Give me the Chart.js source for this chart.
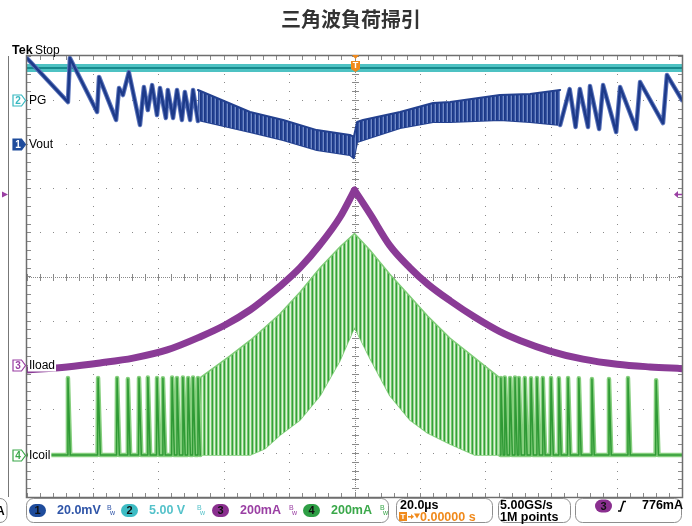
<!DOCTYPE html>
<html>
<head>
<meta charset="utf-8">
<script src="https://cdn.jsdelivr.net/npm/chart.js@4.4.0/dist/chart.umd.min.js"></script>
<style>
  html, body { margin: 0; padding: 0; background: #fff; }
</style>
</head>
<body>
<canvas id="c" width="692" height="526"></canvas>
<script>
// ---- scope settings (20us/div, 10 x 10 div) ----
const title = '三角波負荷掃引';
const xMin = -100, xMax = 100;          // us
const ch1Pos = 3.0, ch1Scale = 20;      // Vout, mV/div
const ch2Pos = 4.0, ch2Scale = 5;       // PG, V/div
const ch3Pos = -2.0, ch3Scale = 200;    // Iload, mA/div
const ch4Pos = -4.05, ch4Scale = 200;   // Icoil, mA/div
const trigLevel = 776;                  // mA on ch3

// Vout (mV) - sawtooth vertices, left side
const voutLeftT = [-100, -87.5, -86.9, -78.6, -78.0, -72.8, -71.9, -70.7, -68.9, -65.5, -64.3, -63.1, -61.8, -60.3, -59.4, -57.6, -57.0, -55.4, -54.2, -52.7, -51.8, -50.2, -49.3, -47.8];
const voutLeftV = [39, 19.1, 39.1, 14.6, 30.5, 11.0, 25.5, 22.3, 32.7, 8.7, 25.9, 15.5, 26.8, 13.2, 25.5, 11.9, 24.6, 11.9, 24.6, 11.0, 23.7, 11.0, 24.6, 10.5];
// Vout right side sawtooth
const voutRightT = [62.8, 65.7, 67.5, 68.8, 71.3, 71.9, 74.7, 75.9, 79.9, 81.1, 86.0, 87.2, 94.2, 95.4, 100];
const voutRightV = [8.7, 25.0, 7.8, 25.0, 7.8, 26.4, 6.9, 26.8, 5.5, 25.9, 6.9, 28.2, 9.6, 31.4, 20.0];
// Vout dense ripple envelope in the middle
const voutBandT  = [-47.8, -31.9, -21.8, -11.5, -1.4, -0.2, 0.8, 2.6, 13.9, 24.0, 29.2, 44.4, 53.6, 62.8];
const voutBandHi = [24.6, 14.6, 11.0, 6.4, 4.2, 3.3, 10.1, 11.0, 14.6, 18.7, 19.1, 22.3, 22.8, 24.6];
const voutBandLo = [11.0, 5.5, 1.9, -2.6, -4.9, -6.3, 1.0, 1.9, 7.3, 10.1, 10.1, 11.0, 10.1, 8.7];

// PG (V)
const pgT = [-100, 100];
const pgV = [3.64, 3.64];

// Iload (mA), rising half and falling half
const iloadUpT = [-100, -87.8, -77.7, -67.6, -57.2, -47.2, -39.5, -31.9, -27.3, -22.8, -16.6, -10.5, -4.4, 0];
const iloadUpV = [-24, -10, 8, 30, 67, 126, 180, 248, 300, 355, 440, 545, 670, 792];
const iloadDnT = [0, 4.7, 10.8, 16.9, 22.4, 29.2, 36.8, 44.4, 50.5, 59.7, 69.8, 80.2, 90.2, 100];
const iloadDnV = [792, 685, 540, 440, 365, 290, 215, 150, 110, 62, 25, 2, -10, -18];

// Icoil (mA) - discontinuous pulses at light load
const icoilLeftT  = [-87.5, -78.3, -72.5, -69.2, -65.8, -63.1, -60.3, -58.5, -55.7, -54.2, -52.4, -50.8, -49.3, -47.8];
const icoilLeftPk = [350, 350, 350, 345, 350, 352, 350, 348, 352, 350, 352, 350, 352, 350];
const icoilRightT  = [44.7, 45.9, 47.5, 49.0, 50.2, 52.0, 53.9, 55.7, 57.5, 60.0, 62.4, 65.2, 68.5, 72.5, 77.7, 83.5, 92.1];
const icoilRightPk = [350, 352, 350, 352, 350, 350, 348, 350, 350, 350, 348, 350, 348, 345, 345, 350, 340];
// Icoil continuous ripple envelope (peaks / valleys)
const icoilBandT  = [-47.2, -38.0, -31.9, -27.3, -22.8, -16.6, -10.5, -4.4, 0, 4.7, 10.8, 16.9, 22.4, 29.2, 36.8, 44.4];
const icoilBandHi = [350, 450, 520, 580, 640, 740, 850, 945, 1005, 930, 820, 720, 630, 530, 440, 350];
const icoilBandLo = [0, 0, 0, 30, 90, 160, 270, 430, 580, 440, 270, 160, 100, 50, 0, 0];

// ---- helpers ----
const canvas = document.getElementById('c');
const ctx0 = canvas.getContext('2d');

function pts(ts, vs, pos, scale) {
  return ts.map((t, i) => ({ x: t, y: vs[i] === null ? null : pos + vs[i] / scale }));
}

function pulses(ts, pks) {
  const out = [];
  ts.forEach((t, i) => {
    out.push({ x: t - 0.15, y: 0 }, { x: t, y: pks[i] }, { x: t + 0.7, y: 0 });
  });
  return out;
}

function stripes(cols) {
  const c = document.createElement('canvas');
  c.width = cols.length; c.height = 1;
  const g = c.getContext('2d');
  cols.forEach((col, i) => { g.fillStyle = col; g.fillRect(i, 0, 1, 1); });
  return ctx0.createPattern(c, 'repeat');
}

const voutSaw = [
  ...pts(voutLeftT, voutLeftV, ch1Pos, ch1Scale),
  { x: 0, y: null },
  ...pts(voutRightT, voutRightV, ch1Pos, ch1Scale)
];

const icoilRaw = [{ x: xMin, y: 0 }, ...pulses(icoilLeftT, icoilLeftPk), { x: -47.2, y: 0 }, { x: 0, y: null },
  ...pulses(icoilRightT, icoilRightPk), { x: xMax, y: 0 }];
const icoilLine = icoilRaw.map(p => ({ x: p.x, y: p.y === null ? null : ch4Pos + p.y / ch4Scale }));

const line = (data, color, width, extra) => Object.assign({
  data, borderColor: color, borderWidth: width, pointRadius: 0, fill: false, spanGaps: false,
  borderJoinStyle: 'round', borderCapStyle: 'round'
}, extra || {});

const datasets = [
  line(voutSaw, '#1d3a8a', 2.5),
  line(voutSaw, '#5b74bb', 4.5),
  line(pts(voutBandT, voutBandHi, ch1Pos, ch1Scale), '#23408f', 2,
    { fill: '+1', backgroundColor: stripes(['#1b3786', '#22408f', '#3a58a6', '#7089c6']) }),
  line(pts(voutBandT, voutBandLo, ch1Pos, ch1Scale), '#23408f', 2),
  line(pts(pgT, pgV, ch2Pos, ch2Scale), '#178a8d', 2),
  line(pts(pgT, pgV, ch2Pos, ch2Scale), '#4ec2c3', 8, { borderCapStyle: 'butt' }),
  line(pts(iloadUpT, iloadUpV, ch3Pos, ch3Scale), '#8a3b96', 7, { cubicInterpolationMode: 'monotone' }),
  line(pts(iloadDnT, iloadDnV, ch3Pos, ch3Scale), '#8a3b96', 7, { cubicInterpolationMode: 'monotone' }),
  line(icoilLine, '#2f9a35', 1.5),
  line(icoilLine, '#86cf7e', 4.5),
  line(pts(icoilBandT, icoilBandHi, ch4Pos, ch4Scale), '#7fcc77', 1.5,
    { fill: '+1', backgroundColor: stripes(['#35a03b', '#9bd993', '#e0f3dc', '#76c96e']) }),
  line(pts(icoilBandT, icoilBandLo, ch4Pos, ch4Scale), '#7fcc77', 1.5)
];

// ---- graticule ----
const graticule = {
  id: 'graticule',
  beforeDatasetsDraw(chart) {
    const { ctx, chartArea: a, scales: { x, y } } = chart;
    ctx.save();
    ctx.fillStyle = '#8a8a8a';
    // dotted major lines
    for (let t = -80; t <= 80; t += 20) {
      if (t === 0) continue;
      const px = Math.round(x.getPixelForValue(t));
      for (let d = -5; d <= 5.001; d += 0.2) ctx.fillRect(px, Math.round(y.getPixelForValue(d)), 1, 1);
    }
    for (let d = -4; d <= 4; d++) {
      if (d === 0) continue;
      const py = Math.round(y.getPixelForValue(d));
      for (let t = -100; t <= 100.001; t += 4) ctx.fillRect(Math.round(x.getPixelForValue(t)), py, 1, 1);
    }
    // center cross
    const cx = Math.round(x.getPixelForValue(0)), cy = Math.round(y.getPixelForValue(0));
    for (let p = a.top; p < a.bottom; p += 2) ctx.fillRect(cx, p, 1, 1);
    for (let p = a.left; p < a.right; p += 2) ctx.fillRect(p, cy, 1, 1);
    for (let d = -5; d <= 5.001; d += 0.2) {
      const py = Math.round(y.getPixelForValue(d));
      ctx.fillRect(cx - 3, py, 7, 1);
      ctx.fillRect(a.left, py, 4, 1);
      ctx.fillRect(a.right - 4, py, 4, 1);
    }
    for (let t = -100; t <= 100.001; t += 4) {
      const px = Math.round(x.getPixelForValue(t));
      ctx.fillRect(px, cy - 3, 1, 7);
      ctx.fillRect(px, a.top, 1, 4);
      ctx.fillRect(px, a.bottom - 4, 1, 4);
    }
    ctx.restore();
  },
  afterDatasetsDraw(chart) {
    const { ctx, chartArea: a } = chart;
    ctx.save();
    ctx.strokeStyle = '#6e6e6e';
    ctx.lineWidth = 1.5;
    ctx.strokeRect(a.left - 0.5, a.top - 0.5, a.right - a.left + 1, a.bottom - a.top + 1);
    ctx.restore();
  }
};

// ---- labels, markers, status bar ----
const uiFont = '"Liberation Sans"';

function tag(ctx, px, py, num, col, filled) {
  ctx.beginPath();
  ctx.moveTo(px, py - 5.5);
  ctx.lineTo(px + 8.5, py - 5.5);
  ctx.lineTo(px + 12.5, py);
  ctx.lineTo(px + 8.5, py + 5.5);
  ctx.lineTo(px, py + 5.5);
  ctx.closePath();
  ctx.fillStyle = filled ? col : '#fff';
  ctx.fill();
  ctx.strokeStyle = col;
  ctx.lineWidth = 1.2;
  ctx.stroke();
  ctx.fillStyle = filled ? '#fff' : col;
  ctx.font = 'bold 10px ' + uiFont;
  ctx.textAlign = 'center';
  ctx.textBaseline = 'middle';
  ctx.fillText(num, px + 5, py + 0.5);
}

function pill(ctx, px, py, num, col) {
  ctx.beginPath();
  ctx.roundRect(px, py - 6.5, 17, 13, 6.5);
  ctx.fillStyle = col;
  ctx.fill();
  ctx.fillStyle = '#111';
  ctx.font = 'bold 11px ' + uiFont;
  ctx.textAlign = 'center';
  ctx.textBaseline = 'middle';
  ctx.fillText(num, px + 8.5, py + 0.5);
}

function bw(ctx, px, col) {
  ctx.fillStyle = col;
  ctx.font = '7px ' + uiFont;
  ctx.textAlign = 'left';
  ctx.textBaseline = 'alphabetic';
  ctx.fillText('B', px, 510);
  ctx.fillText('w', px + 3, 515);
}

const overlay = {
  id: 'overlay',
  afterDraw(chart) {
    const { ctx, chartArea: a, scales: { x, y } } = chart;
    ctx.save();

    ctx.fillStyle = '#333';
    ctx.font = 'bold 20px "Noto Sans CJK JP"';
    ctx.textAlign = 'center';
    ctx.textBaseline = 'middle';
    ctx.fillText(title, 351, 19);

    // left strip of previous screen
    ctx.strokeStyle = '#777';
    ctx.lineWidth = 1;
    ctx.beginPath(); ctx.moveTo(8.5, a.top); ctx.lineTo(8.5, a.bottom); ctx.stroke();

    ctx.textAlign = 'left';
    ctx.textBaseline = 'alphabetic';
    ctx.fillStyle = '#000';
    ctx.font = 'bold 12.5px ' + uiFont;
    ctx.fillText('Tek', 12, 54);
    ctx.font = '12px ' + uiFont;
    ctx.fillText('Stop', 35, 54);

    const chans = [
      [ch2Pos, '2', '#37b8c0', false, 'PG'],
      [ch1Pos, '1', '#1f4c9c', true, 'Vout'],
      [ch3Pos, '3', '#9a3fa3', false, 'Iload'],
      [ch4Pos, '4', '#3aa84a', false, 'Icoil']
    ];
    chans.forEach(([pos, n, col, filled, lab]) => {
      const py = Math.round(y.getPixelForValue(pos)) + 0.5;
      tag(ctx, 13, py, n, col, filled);
      ctx.font = '12px ' + uiFont;
      const w = ctx.measureText(lab).width;
      ctx.fillStyle = '#fff';
      ctx.fillRect(28, py - 7, w + 2, 13);
      ctx.fillStyle = '#000';
      ctx.textAlign = 'left';
      ctx.textBaseline = 'middle';
      ctx.fillText(lab, 29, py + 0.5);
    });

    // trigger position marker
    const tx = Math.round(x.getPixelForValue(0)) + 0.5;
    ctx.fillStyle = '#f08a1c';
    ctx.beginPath(); ctx.moveTo(tx - 3.5, a.top - 1); ctx.lineTo(tx + 3.5, a.top - 1); ctx.lineTo(tx, a.top + 3); ctx.fill();
    ctx.beginPath();
    ctx.moveTo(tx - 4.5, a.top + 5); ctx.lineTo(tx + 4.5, a.top + 5); ctx.lineTo(tx + 4.5, a.top + 13);
    ctx.lineTo(tx, a.top + 16); ctx.lineTo(tx - 4.5, a.top + 13); ctx.closePath(); ctx.fill();
    ctx.fillStyle = '#fff';
    ctx.font = 'bold 9px ' + uiFont;
    ctx.textAlign = 'center';
    ctx.textBaseline = 'middle';
    ctx.fillText('T', tx, a.top + 10);

    // trigger level arrow (ch3)
    const ty = Math.round(y.getPixelForValue(ch3Pos + trigLevel / ch3Scale)) + 0.5;
    ctx.fillStyle = '#9a3fa3';
    ctx.strokeStyle = '#9a3fa3';
    ctx.beginPath(); ctx.moveTo(a.right - 8, ty); ctx.lineTo(a.right - 4, ty - 3.5); ctx.lineTo(a.right - 4, ty + 3.5); ctx.fill();
    ctx.lineWidth = 1.5;
    ctx.beginPath(); ctx.moveTo(a.right - 4, ty); ctx.lineTo(a.right, ty); ctx.stroke();
    ctx.beginPath(); ctx.moveTo(8, ty); ctx.lineTo(2, ty - 3); ctx.lineTo(2, ty + 3); ctx.fill();

    // status bar
    ctx.strokeStyle = '#8e8e8e';
    ctx.lineWidth = 1;
    [[-40, 47], [26.5, 362], [396.5, 96], [498.5, 72], [575.5, 106]].forEach(([bx, bwid]) => {
      ctx.beginPath(); ctx.roundRect(bx, 498.5, bwid, 24, 7); ctx.stroke();
    });
    ctx.fillStyle = '#000';
    ctx.font = 'bold 12px ' + uiFont;
    ctx.textAlign = 'left';
    ctx.textBaseline = 'alphabetic';
    ctx.fillText('A', -4, 515);

    const chInfo = [
      [29, '1', '#1f4c9c', '20.0mV', '#2f55a8', 107],
      [121, '2', '#3dbcc4', '5.00 V', '#55c2ca', 197],
      [212, '3', '#8a2f8f', '200mA', '#9a3fa3', 289],
      [303, '4', '#2e9f45', '200mA', '#3aa84a', 380]
    ];
    chInfo.forEach(([px, n, col, txt, tcol, bx]) => {
      pill(ctx, px, 510.5, n, col);
      ctx.fillStyle = tcol;
      ctx.font = 'bold 12.5px ' + uiFont;
      ctx.textAlign = 'left';
      ctx.textBaseline = 'middle';
      ctx.fillText(txt, px + 28, 511);
      bw(ctx, bx, tcol);
    });

    ctx.fillStyle = '#000';
    ctx.font = 'bold 12.5px ' + uiFont;
    ctx.textBaseline = 'middle';
    ctx.fillText('20.0µs', 400, 506);
    ctx.fillText('5.00GS/s', 500, 506);
    ctx.fillText('1M points', 500, 518);
    ctx.fillText('776mA', 642, 506);

    // trigger position readout
    ctx.fillStyle = '#f08a1c';
    ctx.fillRect(399, 512, 8, 9);
    ctx.fillStyle = '#fff';
    ctx.font = 'bold 8px ' + uiFont;
    ctx.textAlign = 'center';
    ctx.fillText('T', 403, 517);
    ctx.fillStyle = '#f08a1c';
    ctx.fillRect(408, 516, 3, 1.5);
    ctx.beginPath(); ctx.moveTo(411, 514); ctx.lineTo(414, 516.7); ctx.lineTo(411, 519.3); ctx.fill();
    ctx.beginPath(); ctx.moveTo(414, 513.5); ctx.lineTo(420, 513.5); ctx.lineTo(417, 518.5); ctx.fill();
    ctx.font = 'bold 12.5px ' + uiFont;
    ctx.textAlign = 'left';
    ctx.fillText('0.00000 s', 420, 518);

    // trigger source + slope
    pill(ctx, 595, 506, '3', '#8a2f8f');
    ctx.strokeStyle = '#000';
    ctx.lineWidth = 1.5;
    ctx.beginPath();
    ctx.moveTo(618, 511); ctx.lineTo(620.5, 511); ctx.lineTo(623.5, 501.5); ctx.lineTo(626, 501.5);
    ctx.stroke();

    ctx.restore();
  }
};

new Chart(canvas, {
  type: 'line',
  data: { datasets },
  options: {
    responsive: false,
    animation: false,
    events: [],
    layout: { padding: { left: 27, right: 10, top: 56, bottom: 29 } },
    scales: {
      x: { type: 'linear', min: xMin, max: xMax, display: false },
      y: { type: 'linear', min: -5, max: 5, display: false }
    },
    elements: { point: { radius: 0 }, line: { tension: 0 } },
    plugins: { legend: { display: false }, tooltip: { enabled: false } }
  },
  plugins: [graticule, overlay]
});
</script>
</body>
</html>
